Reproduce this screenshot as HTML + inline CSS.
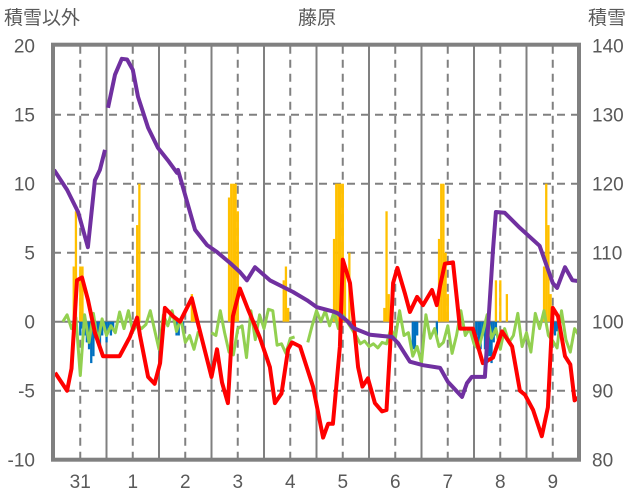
<!DOCTYPE html>
<html><head><meta charset="utf-8">
<style>
html,body{margin:0;padding:0;background:#fff;}
svg{display:block;font-family:"Liberation Sans","Noto Sans CJK JP",sans-serif;}
</style></head>
<body>
<svg id="chart" width="636" height="501" viewBox="0 0 636 501" xmlns="http://www.w3.org/2000/svg">
<text x="4" y="24" font-size="19" fill="#595959">積雪以外</text>
<text x="317" y="24" font-size="19" fill="#595959" text-anchor="middle">藤原</text>
<text x="588" y="24" font-size="19" fill="#595959">積雪</text>
<g id="grid"></g>
<g id="bars"></g>
<g id="lines"></g>
<g id="axes"></g>
</svg>
<script>
const leftTicks=[20,15,10,5,0,-5,-10];
const rightTicks=[140,130,120,110,100,90,80];
const dayLabels=["31","1","2","3","4","5","6","7","8","9"];
const redT=[0.5,6,8,10.5,12.8,15.5,18.7,22.4,26.5,30,34.7,38,39.3,43,46,48.5,50.7,54.4,57.6,63,65.8,72,74.5,76.8,79.5,81.8,85,88.7,94,98.7,101,104,107,108.8,112.5,118.4,123,125.3,127.5,130.7,132,135.3,139,141,143.5,146.7,150,152,153.6,155,157,160.5,162.7,166,168.7,172.8,175,176.5,178.7,182.4,185.6,191.5,196,200.7,204.8,209.4,213,215.3,219,223,225.8,228,230.4,233.6,236,238,239.5];
const redV=[-3.7,-5,-3.4,3,3.2,1.6,-0.8,-2.5,-2.5,-2.5,-1.1,0.3,-1,-4,-4.5,-3,1,0.4,0,1.7,-0.1,-4,-2,-4.4,-5.9,0.4,2.4,0.9,-1.1,-3.3,-5.9,-5.2,-2,-1.5,-1.8,-4.7,-8.4,-7.4,-7.4,-1.8,4.5,2.8,-3.3,-4.7,-4.1,-5.9,-6.5,-6.4,-2,2.8,3.9,2,0.7,1.8,1.2,2.3,1.2,2.6,4.2,4.3,-0.5,-0.5,-3,-2.6,-0.7,-1.8,-5,-5.3,-6.4,-8.3,-6.2,1,0.4,-2.5,-3.1,-5.7,-5.5];
const purpleT=[0,6,11,15.5,18.7,21,23.3,null,24.7,27.9,31,33.4,36,38.4,43,47.5,52,56.2,56.7,64.5,70,74.5,80.5,85,88.2,91.9,98.7,109.3,115.7,120.2,127.5,129.8,134.4,136.7,144.5,154.5,157.3,162.7,168.7,176.5,180,186.5,188.8,191,197,200.7,202,206,213,222,228,230,233.6,237,239.5];
const purpleV=[122,119.1,115.9,110.8,120.5,122,124.9,null,131,135.8,138.1,138,136.5,132.6,128.1,125.2,123.4,121.6,122,113.3,111.1,110.1,108.5,107.2,106,107.9,106,104.3,103.1,102.1,101.5,101.2,100,99.1,98.1,97.8,96.9,94.2,93.7,93.3,91.3,89.1,91.1,92,92,110.4,115.9,115.8,113.6,111,105.6,104.9,107.9,106,105.9];
const greenStart=4, greenStep=2;
const greenV=[0,0.5,-0.5,0.3,-3.9,0.5,-1.5,0.6,-1.5,0.2,-1,-0.3,-0.8,0.7,-0.5,0.8,-0.7,-0.2,-0.5,-0.2,0.8,-0.6,-2,0.5,-0.3,0.8,-0.7,0.2,-1.5,-1,-2,-0.7,null,null,-0.8,-1,0.8,-0.8,-2.2,-2.4,-0.5,-0.3,-2.6,0.8,-1.3,0.5,-0.5,0.9,0.8,-1.7,-1.6,-2.3,-1.2,-1.1,null,null,-1.5,-0.3,0.8,0,0.8,-0.3,0.7,-0.5,0.5,0,-0.5,-1,-1.6,-1.4,-1.8,-1.6,-1.9,-1.5,-1.6,-0.5,-1.2,0.8,-1,-0.8,-2.5,-1.8,-3,0.5,-1.2,-0.5,-1.8,-1.5,-0.3,-2.3,-1,0.8,-1,-0.5,-1.6,-2,-0.8,0.5,-1.2,-0.5,-2,-0.5,-1.5,-1,0.6,-1.8,-0.8,-2.2,0.6,-0.5,0.8,-1,-1.4,-1.9,0.8,-1.3,-2.2,-0.5,-1];
const yellowH=[9,10,12,13,38,39,63,64,80,81,82,83,84,105,106,107,128,129,130,131,132,133,135,151,152,153,176,177,178,179,180,202,204,207,224,225,226,227];
const yellowV=[4,8,4,4,7,10,2,1,9,10,10,10,8,3,4,1,6,10,10,10,10,4,5,1,8,2,6,10,10,5,2,3,3,2,4,10,7,2];
const blueH=[12,13,14,15,16,17,18,19,20,21,22,23,24,25,26,27,56,57,59,164,165,166,175,193,194,195,196,197,198,199,200,201,202,229,230];
const blueV=[-1,-0.5,-1,-1.5,-2,-3,-2.5,-1,-1.5,-2,-1,-0.5,-1.5,-0.5,-1,-0.5,-1,-1,-0.8,-2,-2,-1,-1,-1,-1.5,-2,-1,-2,-3,-2.5,-3,-1.5,-1,-1,-0.7];

const X0=54,PXH=2.1875,TOP=45.7,BOT=459.7,L=53,R=579;
const xs=h=>X0+h*PXH;
const yl=v=>321.7-v*13.8;
const yr=v=>BOT-(v-80)*6.9;
const NS="http://www.w3.org/2000/svg";
function mk(tag,attrs,parent){const e=document.createElementNS(NS,tag);for(const k in attrs)e.setAttribute(k,attrs[k]);parent.appendChild(e);return e;}
const grid=document.getElementById('grid'),bars=document.getElementById('bars'),lines=document.getElementById('lines'),axes=document.getElementById('axes');
// horizontal grid
leftTicks.forEach(v=>{if(v===20||v===-10)return;const y=yl(v);
 const ln=mk('line',{x1:L,x2:R,y1:y,y2:y,stroke:'#808080','stroke-width':2,'stroke-dasharray':v===0?'':'8,6'},grid);
 
 });
// vertical grid
for(let d=1;d<10;d++){const ln=mk('line',{x1:xs(d*24),x2:xs(d*24),y1:TOP,y2:BOT,stroke:'#808080','stroke-width':2},grid);
 
 }
dayLabels.forEach((lab,i)=>{const x=xs(i*24+12);
 const ln=mk('line',{x1:x,x2:x,y1:TOP,y2:BOT,stroke:'#808080','stroke-width':2,'stroke-dasharray':'8,6'},grid);
 
 
 const t=mk('text',{x:x,y:488,'font-size':19,fill:'#595959','text-anchor':'middle'},axes);t.textContent=lab;
 
 });
// bars
yellowH.forEach((h,i)=>{const v=yellowV[i];const r=mk('rect',{x:xs(h)-1.1,width:2.3,y:yl(v),height:yl(0)-yl(v),fill:'#ffc000'},bars);
 
 });
blueH.forEach((h,i)=>{const v=blueV[i];const r=mk('rect',{x:xs(h)-1.1,width:2.3,y:yl(0),height:yl(v)-yl(0),fill:'#0070c0'},bars);
 
 });
function pathFrom(ts,vs,yf){let d='',pen=false;for(let i=0;i<ts.length;i++){if(ts[i]===null||vs[i]===null){pen=false;continue;}d+=(pen?'L':'M')+xs(ts[i]).toFixed(1)+','+yf(vs[i]).toFixed(1);pen=true;}return d;}
const gT=greenV.map((v,i)=>greenStart+i*greenStep);
const g=mk('path',{d:pathFrom(gT,greenV,yl),fill:'none',stroke:'#92d050','stroke-width':3,'stroke-linejoin':'round'},lines);


const r=mk('path',{d:pathFrom(redT,redV,yl),fill:'none',stroke:'#ff0000','stroke-width':4,'stroke-linejoin':'round'},lines);


const p=mk('path',{d:pathFrom(purpleT,purpleV,yr),fill:'none',stroke:'#7030a0','stroke-width':4,'stroke-linejoin':'round'},lines);


// frame
const fr=mk('rect',{x:L,y:TOP-1,width:R-L,height:BOT-TOP+1,fill:'none',stroke:'#808080','stroke-width':4},axes);


leftTicks.forEach(v=>{const t=mk('text',{x:35,y:yl(v)+7,'font-size':19,fill:'#595959','text-anchor':'end'},axes);t.textContent=v;
 
 });
rightTicks.forEach(v=>{const t=mk('text',{x:592,y:yr(v)+7,'font-size':19,fill:'#595959'},axes);t.textContent=v;
 
 });
</script>
</body></html>
